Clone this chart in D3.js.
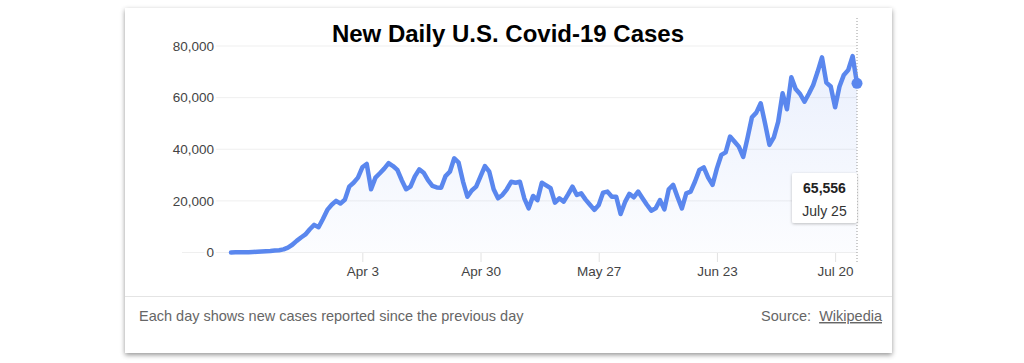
<!DOCTYPE html>
<html><head><meta charset="utf-8">
<script src="https://cdn.jsdelivr.net/npm/d3@7"></script>
<style>
body{margin:0;background:#fff;}
svg{display:block;font-family:"Liberation Sans",Arial,Helvetica,sans-serif;}
</style>
</head><body>
<svg id="c" width="1024" height="363"></svg>
<script>
// ---- data ----
const startDate = "2020-03-04";
const cases = [
  30, 60, 70, 120, 110, 190, 300, 400, 500, 600, 800, 900,
  1200, 1900, 3000, 4500, 5800, 7000, 9000, 10700, 9800, 13000,
  16500, 18500, 20000, 19000, 20400, 25500, 27000, 29000, 33000, 34300,
  24500, 29000, 30700, 32500, 34600, 33500, 32000, 28000, 24500, 25500,
  29500, 32200, 30900, 28000, 25800, 25200, 25100, 29600, 31300, 36500,
  34800, 27500, 21600, 24000, 25500, 29500, 33500, 31300, 24500, 21000,
  22300, 24500, 27400, 27000, 27400, 21000, 17100, 21900, 20300, 27000,
  26000, 24900, 19300, 21000, 19700, 22500, 25500, 22300, 22900, 20500,
  18500, 16500, 18400, 23200, 23600, 21600, 21600, 14900, 19500, 22700,
  21400, 23600, 21000, 18500, 16200, 17100, 20300, 16700, 24500, 26200,
  21500, 17100, 22900, 23600, 27500, 32000, 33000, 29000, 26200, 32600,
  37800, 38800, 44900, 43000, 41000, 37000, 44500, 52400, 54200, 57800,
  50000, 41700, 44600, 50700, 61700, 55500, 67900, 63300, 61400, 58400,
  61500, 64900, 70000, 75600, 65800, 64300, 56300, 64300, 68800, 70700,
  76100, 65556
];
const yTicks = [0, 20000, 40000, 60000, 80000];
const xTickDates = ["2020-04-03", "2020-04-30", "2020-05-27", "2020-06-23", "2020-07-20"];
const titleText = "New Daily U.S. Covid-19 Cases";
const footText = "Each day shows new cases reported since the previous day";
const sourceLabel = "Source:";
const sourceLink = "Wikipedia";
const tipValue = "65,556";
const tipDate = "July 25";

// ---- build ----
const parse = d3.utcParse("%Y-%m-%d");
const d0 = parse(startDate);
const series = cases.map((v, i) => ({date: d3.utcDay.offset(d0, i), value: v}));
const last = series[series.length - 1];

const svg = d3.select("#c");
const defs = svg.append("defs");
const f = defs.append("filter").attr("id", "card").attr("x", "-5%").attr("y", "-5%").attr("width", "110%").attr("height", "115%");
f.append("feDropShadow").attr("dx", 0).attr("dy", 2).attr("stdDeviation", 2.5).attr("flood-color", "#000").attr("flood-opacity", 0.42);
const f2 = defs.append("filter").attr("id", "tip").attr("x", "-20%").attr("y", "-20%").attr("width", "140%").attr("height", "150%");
f2.append("feDropShadow").attr("dx", 0).attr("dy", 1).attr("stdDeviation", 1.5).attr("flood-color", "#000").attr("flood-opacity", 0.25);
const grad = defs.append("linearGradient").attr("id", "fill").attr("gradientUnits", "userSpaceOnUse")
  .attr("x1", 0).attr("x2", 0).attr("y1", 46).attr("y2", 253);
grad.append("stop").attr("offset", 0).attr("stop-color", "#5a87ee").attr("stop-opacity", 0.13);
grad.append("stop").attr("offset", 1).attr("stop-color", "#5a87ee").attr("stop-opacity", 0.02);

// card
svg.append("rect").attr("x", 125).attr("y", 8).attr("width", 767).attr("height", 345)
  .attr("fill", "#fff").attr("filter", "url(#card)");

const x = d3.scaleUtc().domain([d0, last.date]).range([231, 857]);
const y = d3.scaleLinear().domain([0, 80000]).range([252.5, 46]);

// gridlines
svg.append("g").selectAll("line").data(yTicks).join("line")
  .attr("x1", 182).attr("x2", 857)
  .attr("y1", d => y(d)).attr("y2", d => y(d))
  .attr("stroke", "#efefef").attr("stroke-width", 1);

// y labels
svg.append("g").selectAll("text").data(yTicks).join("text")
  .attr("x", 214).attr("y", d => y(d)).attr("dy", "0.35em")
  .attr("text-anchor", "end").attr("font-size", 13.5).attr("fill", "#444")
  .attr("stroke", "#fff").attr("stroke-width", 5).attr("paint-order", "stroke")
  .text(d => d3.format(",")(d));

// x axis
const xAxis = d3.axisBottom(x).tickValues(xTickDates.map(parse))
  .tickFormat(d3.utcFormat("%b %-d")).tickSize(9).tickPadding(4);
const gx = svg.append("g").attr("transform", "translate(0,253)").call(xAxis);
gx.select(".domain").remove();
gx.selectAll(".tick line").attr("stroke", "#e2e2e2");
gx.selectAll(".tick text").attr("font-size", 13.5).attr("fill", "#444")
  .attr("font-family", "'Liberation Sans',Arial,sans-serif");

// area + line
svg.append("path").datum(series)
  .attr("d", d3.area().x(d => x(d.date)).y0(y(0)).y1(d => y(d.value)))
  .attr("fill", "url(#fill)");
svg.append("path").datum(series)
  .attr("d", d3.line().x(d => x(d.date)).y(d => y(d.value)))
  .attr("fill", "none").attr("stroke", "#5a87ee").attr("stroke-width", 4.5)
  .attr("stroke-linejoin", "round").attr("stroke-linecap", "round");

// hover line
svg.append("line").attr("x1", x(last.date)).attr("x2", x(last.date))
  .attr("y1", 18).attr("y2", 262)
  .attr("stroke", "#9a9a9a").attr("stroke-width", 1).attr("stroke-dasharray", "1,2");

svg.append("circle").attr("cx", x(last.date)).attr("cy", y(last.value)).attr("r", 5.5)
  .attr("fill", "#5a87ee");

// tooltip
const tg = svg.append("g");
tg.append("rect").attr("x", 792).attr("y", 173).attr("width", 65).attr("height", 50).attr("rx", 2)
  .attr("fill", "#fff").attr("filter", "url(#tip)");
tg.append("text").attr("x", 824.5).attr("y", 193).attr("text-anchor", "middle")
  .attr("font-size", 14).attr("font-weight", "bold").attr("fill", "#222").text(tipValue);
tg.append("text").attr("x", 824.5).attr("y", 216).attr("text-anchor", "middle")
  .attr("font-size", 14).attr("fill", "#333").text(tipDate);

// title
svg.append("text").attr("x", 508).attr("y", 42).attr("text-anchor", "middle")
  .attr("font-size", 24).attr("font-weight", "bold").attr("fill", "#000").text(titleText);

// footer
svg.append("line").attr("x1", 125).attr("x2", 892).attr("y1", 296.5).attr("y2", 296.5)
  .attr("stroke", "#e4e4e4");
svg.append("text").attr("x", 139).attr("y", 321).attr("font-size", 14.5).attr("fill", "#666").text(footText);
const src = svg.append("text").attr("x", 882).attr("y", 321).attr("text-anchor", "end")
  .attr("font-size", 14.5).attr("fill", "#666");
src.append("tspan").text(sourceLabel + "\u00a0\u00a0");
src.append("tspan").attr("text-decoration", "underline").text(sourceLink);
</script>
</body></html>
